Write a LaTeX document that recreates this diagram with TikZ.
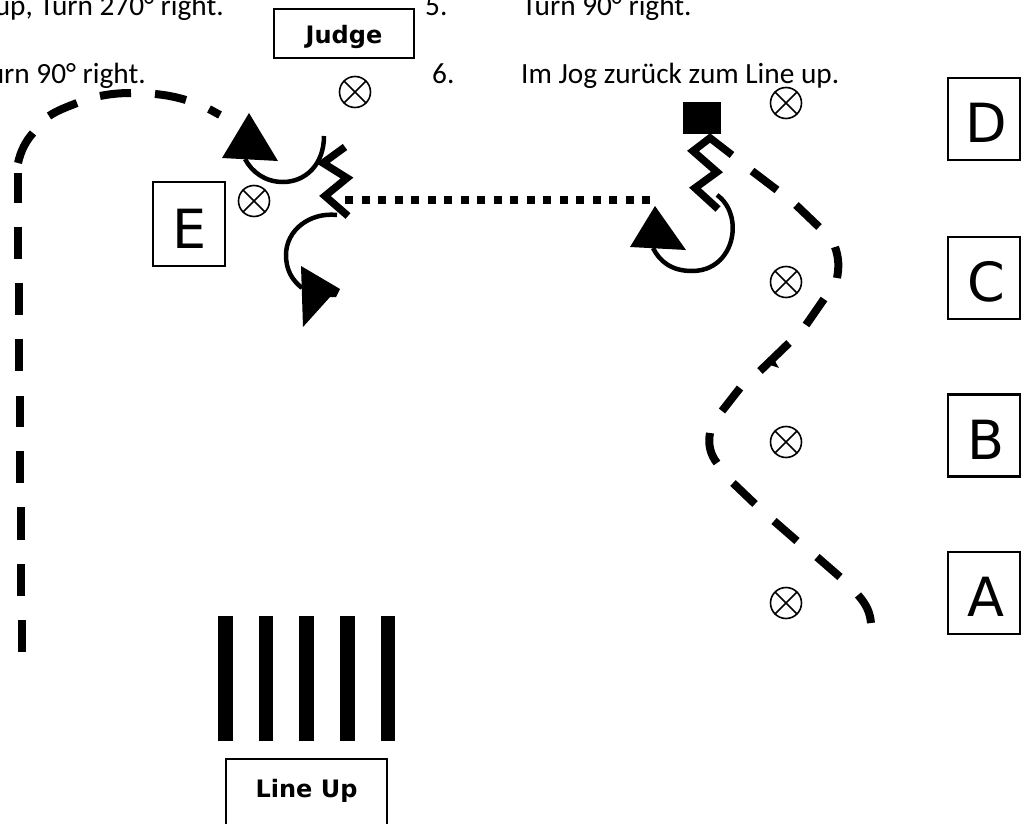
\documentclass[tikz,border=0pt]{standalone}
\usepackage{fontspec}
\setmainfont{Carlito}
\newfontfamily\vfont{DejaVu Sans}
\tikzset{
  lbox/.style={draw=black,line width=2.4pt,minimum width=72pt,minimum height=82pt,inner sep=0pt,font=\vfont\fontsize{54}{54}\selectfont},
  tbox/.style={draw=black,line width=2.2pt,inner sep=0pt,font=\vfont\bfseries\fontsize{24}{24}\selectfont},
  xmark/.style={draw=black,circle,line width=1.6pt,minimum size=31pt,inner sep=0pt,
    path picture={\draw[line width=1.6pt] (path picture bounding box.north west)--(path picture bounding box.south east)
      (path picture bounding box.north east)--(path picture bounding box.south west);}},
  dashseg/.style={line width=8pt,line cap=butt},
  zig/.style={line width=7.5pt,line join=miter,miter limit=2},
  turnarc/.style={line width=4.5pt},
  tip/.style={fill=black,draw=none},
  txt/.style={inner sep=0pt,font=\fontsize{29.3}{30}\selectfont,text=black,anchor=base west},
  bar/.style={fill=black,draw=none}
}
\newcommand{\letterin}[1]{\hspace{4pt}\raisebox{-4pt}[\height][\depth]{#1}}
\begin{document}
\begin{tikzpicture}[x=1pt,y=-1pt]
\useasboundingbox (0,0) rectangle (1029,824);
\clip (0,0) rectangle (1029,824);
% texts
\node[txt,anchor=base east] (t1) at (224,15.7) {up, Turn 270° right.};
\node[txt] (t2) at (425,15.7) {5.};
\node[txt] (t3) at (522,15.7) {Turn 90° right.};
\node[txt,anchor=base east] (t4) at (146,83.5) {urn 90° right.};
\node[txt] (t5) at (432,83.5) {6.};
\node[txt] (t6) at (521,83.5) {Im Jog zurück zum Line up.};
% boxes
\node[tbox,minimum width=140pt,minimum height=49pt] (judge) at (344,33.5) {\raisebox{-3pt}[\height][\depth]{Judge}};
\node[tbox,minimum width=161pt,minimum height=70pt] (lineup) at (306.5,794) {\raisebox{3.5pt}[\height][\depth]{Line Up}};
\node[lbox] (D) at (984,119) {\letterin{D}};
\node[lbox] (C) at (984,278) {\letterin{C}};
\node[lbox] (B) at (984,435.5) {\letterin{B}};
\node[lbox] (A) at (984,593) {\letterin{A}};
\node[lbox,minimum height=84pt] (E) at (189,224) {\hspace{2pt}\raisebox{-4.5pt}[\height][\depth]{E}};
% crossed circles
\node[xmark] (x1) at (355,92) {};
\node[xmark] (x2) at (254,201) {};
\node[xmark] (x3) at (786,103) {};
\node[xmark] (x4) at (786,282) {};
\node[xmark] (x5) at (786,442) {};
\node[xmark] (x6) at (786,603) {};
% horse start square
\node[fill=black,draw=none,minimum width=38pt,minimum height=32pt,inner sep=0pt] (sq) at (702,118) {};
% line-up bars
\foreach \bx in {225.5,266,306.5,347.5,388}
  \fill[bar] (\bx-7.3,616) rectangle (\bx+7.3,741);
% left dashed path
\foreach \xa/\ya/\xb/\yb in {17.5/173/17.5/203,18/227/18/259,18.5/283/18.5/315,19/339/19/371,19.7/396/19.7/427,20.3/451/20.3/483,20.8/507/20.8/540,21.3/564/21.3/596,21.8/620/21.8/652}
  \draw[dashseg] (\xa,\ya) -- (\xb,\yb);
\draw[dashseg] (18,163) .. controls (21,150) and (26,141) .. (33,133);
\draw[dashseg] (49,116) .. controls (58,110) and (67,107) .. (77,103);
\draw[dashseg] (100,96) .. controls (110,94) and (120,93) .. (131,93);
\draw[dashseg] (155,94) .. controls (166,95) and (176,97) .. (186,100);
\draw[dashseg] (209,109) -- (220,115);
% dotted line
\draw[line width=8pt,dash pattern=on 8pt off 8.5pt] (650,200) -- (337,200);
% zigzags
\draw[zig] (345,147) -- (323,163) -- (347,178) -- (325,196) -- (348,216);
\draw[zig] (732,155) -- (710,138) -- (693,151) -- (717,172) -- (695,188) -- (718,209);
% right dashed path
\draw[dashseg] (752,171) -- (777,190);
\draw[dashseg] (796,205) -- (819,227);
\draw[dashseg] (835,247) .. controls (839,258) and (839,268) .. (837,278);
\draw[dashseg] (824,299) -- (806,325);
\draw[dashseg] (789,343) -- (760,371);
\fill[tip] (764,367) -- (772,356) -- (779,368) -- (770,365) -- cycle;
\draw[dashseg] (740,388) -- (722,411);
\draw[dashseg] (710,433) .. controls (708,444) and (710,454) .. (717,463);
\draw[dashseg] (733,483) -- (755,504);
\draw[dashseg] (774,521) -- (797,541);
\draw[dashseg] (817,557) -- (840,577);
\draw[dashseg] (858,595) .. controls (866,604) and (870,612) .. (871,623);
% turn arcs
\draw[turnarc] (324,136) .. controls (324,165) and (305,182) .. (283,182) .. controls (265,182) and (252,172) .. (245,159);
\fill[tip] (249,113) -- (222,158) -- (278,161) -- cycle;
\draw[turnarc] (337,215) .. controls (310,212) and (286,230) .. (286,255) .. controls (286,270) and (292,280) .. (302,288);
\fill[tip] (301,266) -- (340,289) -- (336,297) -- (330,297) -- (303,327) -- cycle;
\draw[turnarc] (717,195) .. controls (745,215) and (735,271) .. (692,271) .. controls (672,271) and (660,262) .. (653,248);
\fill[tip] (655,206) -- (630,247) -- (686,250) -- cycle;
\end{tikzpicture}
\end{document}
